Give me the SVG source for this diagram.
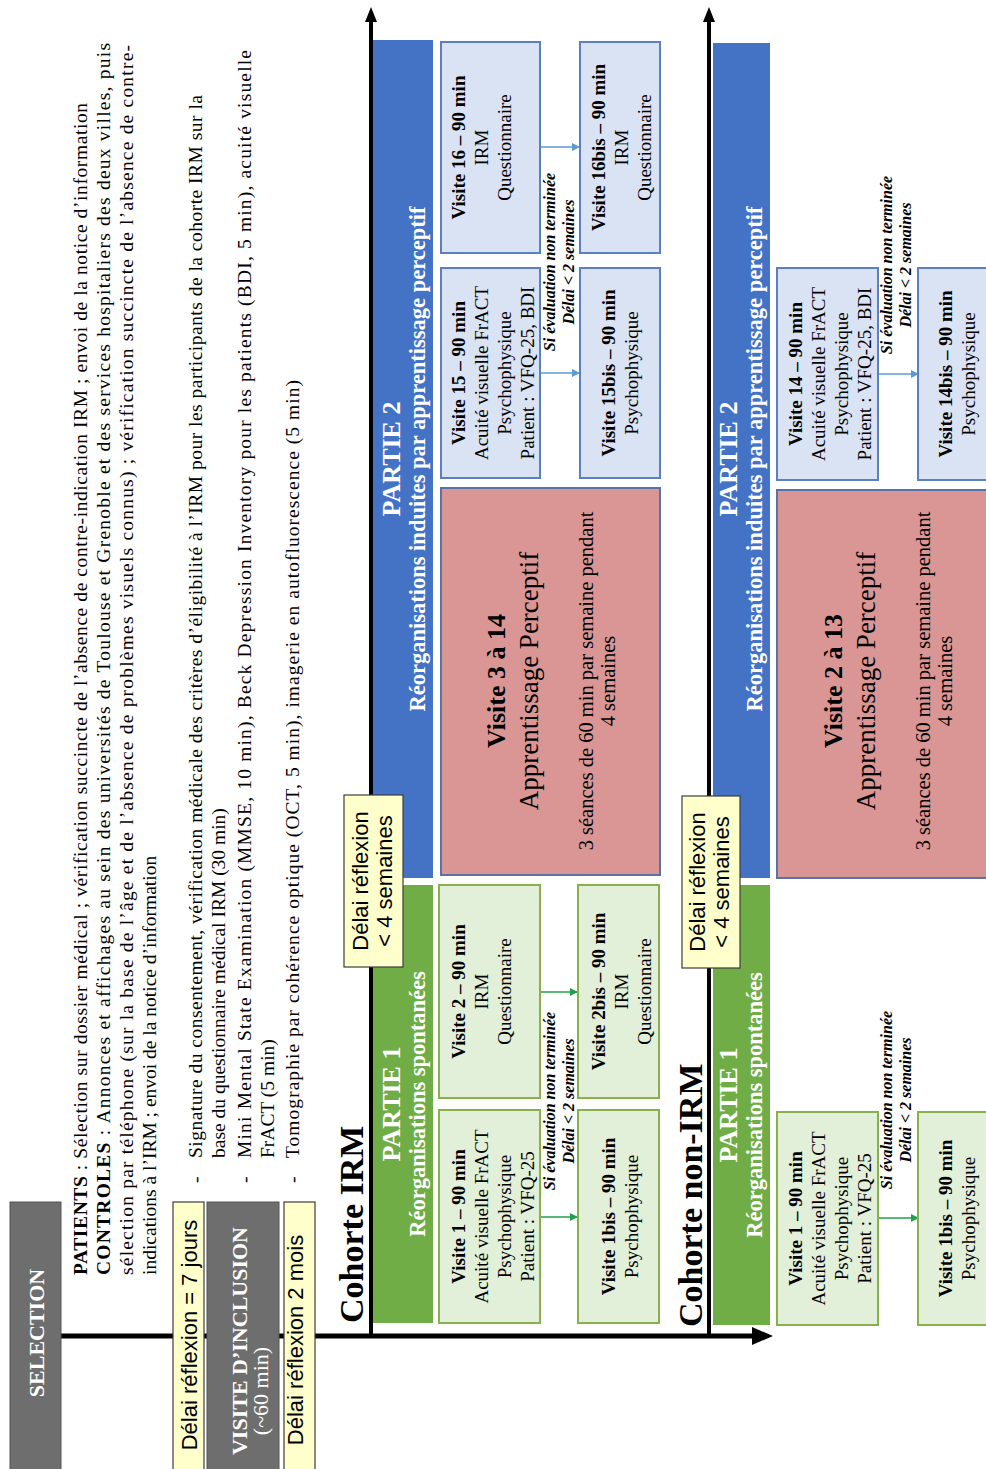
<svg xmlns="http://www.w3.org/2000/svg" width="986" height="1469" viewBox="0 0 986 1469">
<style>
.t{font-family:"Liberation Serif","Times New Roman",serif;fill:#000}
.s{font-family:"Liberation Sans",Arial,sans-serif;fill:#000;font-size:22px}
.b{font-weight:bold}
.w{fill:#fff}
.m{text-anchor:middle}
.p{font-size:19.5px}
.v{font-size:19px}
.i{font-size:16px;font-weight:bold;font-style:italic}
.gray{fill:#6e6e6e;stroke:#555;stroke-width:1}
.yel{fill:#ffffcc;stroke:#3c3c3c;stroke-width:1.2}
.gbox{fill:#e2efd9;stroke:#88b04b;stroke-width:2}
.bbox{fill:#dae3f3;stroke:#5b7fc0;stroke-width:2}
.pink{fill:#d99694;stroke:#5a72a8;stroke-width:2}
.ax{stroke:#000;fill:none}
.ga{stroke:#1fa14c;stroke-width:1.5;fill:none}
.ba{stroke:#5b9bd5;stroke-width:1.5;fill:none}
</style>
<defs>
<marker id="mg" markerWidth="8" markerHeight="8" refX="7" refY="4" orient="auto" markerUnits="userSpaceOnUse"><path d="M0,0 L8,4 L0,8 z" fill="#1fa14c"/></marker>
<marker id="mb" markerWidth="8" markerHeight="8" refX="7" refY="4" orient="auto" markerUnits="userSpaceOnUse"><path d="M0,0 L8,4 L0,8 z" fill="#5b9bd5"/></marker>
</defs>
<rect width="986" height="1469" fill="#fff"/>
<g transform="matrix(0 -1 1 0 0 1469)">
<!-- connectors -->
<g id="connectors">
<line class="ax" x1="133" y1="61" x2="133" y2="756" stroke-width="5"/>
<polygon points="124,752 142,752 133,773" fill="#000"/>
<line class="ax" x1="133" y1="371" x2="1450" y2="371" stroke-width="4"/>
<polygon points="1447,365 1447,377 1462,371" fill="#000"/>
<line class="ax" x1="133" y1="709" x2="1450" y2="709" stroke-width="4"/>
<polygon points="1447,703 1447,715 1462,709" fill="#000"/>
<line class="ga" x1="252" y1="540" x2="252" y2="577" marker-end="url(#mg)"/>
<line class="ga" x1="477" y1="540" x2="477" y2="577" marker-end="url(#mg)"/>
<line class="ba" x1="1096" y1="541" x2="1096" y2="579" marker-end="url(#mb)"/>
<line class="ba" x1="1322" y1="541" x2="1322" y2="579" marker-end="url(#mb)"/>
<line class="ga" x1="251" y1="878" x2="251" y2="918" marker-end="url(#mg)"/>
<line class="ba" x1="1095" y1="878" x2="1095" y2="918" marker-end="url(#mb)"/>
</g>
<!-- left column -->
<g id="selection">
<rect class="gray" x="-3" y="10" width="270" height="51"/>
<text class="t b w m" x="136" y="44" font-size="22">SELECTION</text>
</g>
<g id="delai7">
<rect class="yel" x="-3" y="173" width="270" height="31"/>
<text class="s m" x="134" y="197">Délai réflexion = 7 jours</text>
</g>
<g id="inclusion">
<rect class="gray" x="-3" y="207" width="270" height="72"/>
<text class="t b w m" x="128" y="247" font-size="22">VISITE D’INCLUSION</text>
<text class="t w m" x="78" y="268" font-size="22">(~60 min)</text>
</g>
<g id="delai2">
<rect class="yel" x="-3" y="284" width="270" height="31"/>
<text class="s m" x="129" y="303">Délai réflexion  2 mois</text>
</g>
<g id="texte-selection">
<text class="t p" x="194" y="87" textLength="1172" lengthAdjust="spacing"><tspan class="b">PATIENTS</tspan> : Sélection sur dossier médical ; vérification succincte de l’absence de contre-indication IRM ; envoi de la notice d’information</text>
<text class="t p" x="194" y="110" textLength="1232" lengthAdjust="spacing"><tspan class="b">CONTROLES</tspan> : Annonces et affichages au sein des universités de Toulouse et Grenoble et des services hospitaliers des deux villes, puis</text>
<text class="t p" x="194" y="133" textLength="1230" lengthAdjust="spacing">sélection par téléphone (sur la base de l’âge et de l’absence de problèmes visuels connus) ; vérification succincte de l’absence de contre-</text>
<text class="t p" x="194" y="156">indications à l’IRM ; envoi de la notice d’information</text>
</g>
<g id="texte-inclusion">
<text class="t p" x="286" y="202">-</text>
<text class="t p" x="311" y="202" textLength="1063" lengthAdjust="spacing">Signature du consentement, vérification médicale des critères d’éligibilité à l’IRM pour les participants de la cohorte IRM sur la</text>
<text class="t p" x="311" y="225">base du questionnaire médical IRM (30 min)</text>
<text class="t p" x="286" y="251">-</text>
<text class="t p" x="311" y="251" textLength="1108" lengthAdjust="spacing">Mini Mental State Examination (MMSE, 10 min), Beck Depression Inventory pour les patients (BDI, 5 min), acuité visuelle</text>
<text class="t p" x="311" y="274">FrACT (5 min)</text>
<text class="t p" x="286" y="299">-</text>
<text class="t p" x="311" y="299" textLength="778" lengthAdjust="spacing">Tomographie par cohérence optique (OCT, 5 min), imagerie en autofluorescence (5 min)</text>
</g>
<!-- Cohorte IRM -->
<g id="cohorte-irm">
<text class="t b" x="146" y="363" font-size="34">Cohorte IRM</text>
</g>
<g id="irm-partie1">
<rect x="146" y="373" width="438" height="60" fill="#70ad47"/>
<text class="t b w m" x="365" y="400" font-size="26">PARTIE 1</text>
<text class="t b w m" x="365" y="425" font-size="22.5">Réorganisations spontanées</text>
</g>
<g id="irm-partie2">
<rect x="591" y="373" width="838" height="60" fill="#4472c4"/>
<text class="t b w m" x="1010" y="400" font-size="26">PARTIE 2</text>
<text class="t b w m" x="1010" y="425" font-size="22.5">Réorganisations induites par apprentissage perceptif</text>
</g>
<g id="irm-delai">
<rect class="yel" x="502" y="344" width="172" height="59"/>
<text class="s m" x="588" y="368">Délai réflexion</text>
<text class="s m" x="588" y="392">&lt; 4 semaines</text>
</g>
<g id="irm-v1">
<rect class="gbox" x="146" y="439" width="213" height="101"/>
<text class="t v b m" x="252.5" y="465">Visite 1 – 90 min</text>
<text class="t v m" x="252.5" y="488">Acuité visuelle FrACT</text>
<text class="t v m" x="252.5" y="511">Psychophysique</text>
<text class="t v m" x="252.5" y="534">Patient : VFQ-25</text>
</g>
<g id="irm-v2">
<rect class="gbox" x="371" y="439" width="213" height="101"/>
<text class="t v b m" x="477.5" y="465">Visite 2 – 90 min</text>
<text class="t v m" x="477.5" y="488">IRM</text>
<text class="t v m" x="477.5" y="511">Questionnaire</text>
</g>
<g id="irm-v1bis">
<rect class="gbox" x="146" y="578" width="213" height="81"/>
<text class="t v b m" x="252.5" y="615">Visite 1bis – 90 min</text>
<text class="t v m" x="252.5" y="638">Psychophysique</text>
</g>
<g id="irm-v2bis">
<rect class="gbox" x="371" y="578" width="213" height="81"/>
<text class="t v b m" x="477.5" y="605">Visite 2bis – 90 min</text>
<text class="t v m" x="477.5" y="628">IRM</text>
<text class="t v m" x="477.5" y="651">Questionnaire</text>
</g>
<g id="irm-note1">
<text class="t i m" x="368" y="555">Si évaluation non terminée</text>
<text class="t i m" x="368" y="574">Délai &lt; 2 semaines</text>
</g>
<g id="irm-apprentissage">
<rect class="pink" x="594" y="441" width="387" height="219"/>
<text class="t b m" x="788" y="505" font-size="26">Visite 3 à 14</text>
<text class="t m" x="788" y="538" font-size="27">Apprentissage Perceptif</text>
<text class="t m" x="788" y="593" font-size="20.5">3 séances de 60 min par semaine pendant</text>
<text class="t m" x="788" y="615" font-size="20.5">4 semaines</text>
</g>
<g id="irm-v15">
<rect class="bbox" x="991" y="441" width="210" height="99"/>
<text class="t v b m" x="1096" y="465">Visite 15 – 90 min</text>
<text class="t v m" x="1096" y="488">Acuité visuelle FrACT</text>
<text class="t v m" x="1096" y="511">Psychophysique</text>
<text class="t v m" x="1096" y="534">Patient : VFQ-25, BDI</text>
</g>
<g id="irm-v16">
<rect class="bbox" x="1216" y="441" width="211" height="99"/>
<text class="t v b m" x="1321.5" y="465">Visite 16 – 90 min</text>
<text class="t v m" x="1321.5" y="488">IRM</text>
<text class="t v m" x="1321.5" y="511">Questionnaire</text>
</g>
<g id="irm-v15bis">
<rect class="bbox" x="991" y="580" width="210" height="80"/>
<text class="t v b m" x="1096" y="615">Visite 15bis – 90 min</text>
<text class="t v m" x="1096" y="638">Psychophysique</text>
</g>
<g id="irm-v16bis">
<rect class="bbox" x="1216" y="580" width="211" height="80"/>
<text class="t v b m" x="1321.5" y="605">Visite 16bis – 90 min</text>
<text class="t v m" x="1321.5" y="628">IRM</text>
<text class="t v m" x="1321.5" y="651">Questionnaire</text>
</g>
<g id="irm-note2">
<text class="t i m" x="1207" y="555">Si évaluation non terminée</text>
<text class="t i m" x="1207" y="574">Délai &lt; 2 semaines</text>
</g>
<!-- Cohorte non-IRM -->
<g id="cohorte-non-irm">
<text class="t b" x="142" y="702" font-size="34">Cohorte non-IRM</text>
</g>
<g id="nirm-partie1">
<rect x="144" y="713" width="440" height="57" fill="#70ad47"/>
<text class="t b w m" x="364" y="737" font-size="26">PARTIE 1</text>
<text class="t b w m" x="364" y="762" font-size="22.5">Réorganisations spontanées</text>
</g>
<g id="nirm-partie2">
<rect x="591" y="713" width="835" height="57" fill="#4472c4"/>
<text class="t b w m" x="1010" y="737" font-size="26">PARTIE 2</text>
<text class="t b w m" x="1010" y="762" font-size="22.5">Réorganisations induites par apprentissage perceptif</text>
</g>
<g id="nirm-delai">
<rect class="yel" x="501" y="682" width="172" height="58"/>
<text class="s m" x="587" y="705">Délai réflexion</text>
<text class="s m" x="587" y="729">&lt; 4 semaines</text>
</g>
<g id="nirm-v1">
<rect class="gbox" x="144" y="777" width="213" height="101"/>
<text class="t v b m" x="250.5" y="802">Visite 1 – 90 min</text>
<text class="t v m" x="250.5" y="825">Acuité visuelle FrACT</text>
<text class="t v m" x="250.5" y="848">Psychophysique</text>
<text class="t v m" x="250.5" y="871">Patient : VFQ-25</text>
</g>
<g id="nirm-v1bis">
<rect class="gbox" x="144" y="918" width="213" height="90"/>
<text class="t v b m" x="250.5" y="952">Visite 1bis – 90 min</text>
<text class="t v m" x="250.5" y="975">Psychophysique</text>
</g>
<g id="nirm-note1">
<text class="t i m" x="369" y="892">Si évaluation non terminée</text>
<text class="t i m" x="369" y="911">Délai &lt; 2 semaines</text>
</g>
<g id="nirm-apprentissage">
<rect class="pink" x="591" y="777" width="388" height="230"/>
<text class="t b m" x="788" y="842" font-size="26">Visite 2 à 13</text>
<text class="t m" x="788" y="875" font-size="27">Apprentissage Perceptif</text>
<text class="t m" x="788" y="930" font-size="20.5">3 séances de 60 min par semaine pendant</text>
<text class="t m" x="788" y="952" font-size="20.5">4 semaines</text>
</g>
<g id="nirm-v14">
<rect class="bbox" x="989" y="777" width="212" height="101"/>
<text class="t v b m" x="1095" y="802">Visite 14 – 90 min</text>
<text class="t v m" x="1095" y="825">Acuité visuelle FrACT</text>
<text class="t v m" x="1095" y="848">Psychophysique</text>
<text class="t v m" x="1095" y="871">Patient : VFQ-25, BDI</text>
</g>
<g id="nirm-v14bis">
<rect class="bbox" x="989" y="918" width="212" height="90"/>
<text class="t v b m" x="1095" y="952">Visite 14bis – 90 min</text>
<text class="t v m" x="1095" y="975">Psychophysique</text>
</g>
<g id="nirm-note2">
<text class="t i m" x="1204" y="892">Si évaluation non terminée</text>
<text class="t i m" x="1204" y="911">Délai &lt; 2 semaines</text>
</g>
</g>
</svg>
